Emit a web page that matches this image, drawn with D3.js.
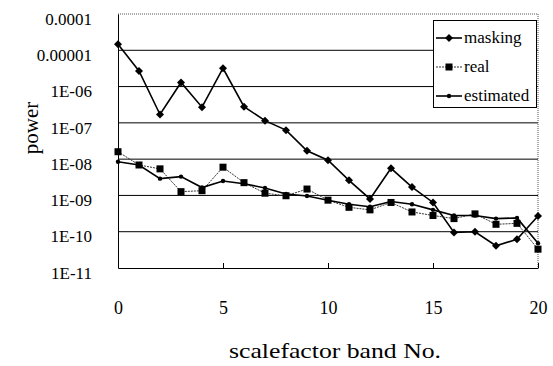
<!DOCTYPE html>
<html><head><meta charset="utf-8">
<script src="https://cdn.jsdelivr.net/npm/d3@7"></script>
<style>body{margin:0;background:#fff}svg{display:block}text{font-family:"Liberation Serif","DejaVu Serif",serif;fill:#000}</style>
</head><body>
<svg id="c" width="553" height="366"></svg>
<script>
const bands = d3.range(0, 21);
const masking = [1.46e-5, 2.7e-6, 1.7e-7, 1.3e-6, 2.7e-7, 3.2e-6, 2.8e-7, 1.15e-7, 6.3e-8, 1.7e-8, 9.3e-9, 2.6e-9, 8e-10, 5.6e-9, 1.7e-9, 6.4e-10, 9.5e-11, 1e-10, 4.1e-11, 6.2e-11, 2.7e-10];
const real = [1.6e-8, 6.9e-9, 5.4e-9, 1.27e-9, 1.35e-9, 6e-9, 2.25e-9, 1.15e-9, 9.8e-10, 1.5e-9, 7.4e-10, 4.7e-10, 4e-10, 6.4e-10, 3.5e-10, 2.8e-10, 2.3e-10, 3.1e-10, 1.6e-10, 1.7e-10, 3.3e-11];
const estimated = [8.5e-9, 6.9e-9, 2.9e-9, 3.3e-9, 1.65e-9, 2.5e-9, 2.1e-9, 1.6e-9, 1.1e-9, 9.6e-10, 7.4e-10, 5.7e-10, 4.9e-10, 6.8e-10, 5.7e-10, 4e-10, 2.8e-10, 2.8e-10, 2.3e-10, 2.4e-10, 4.8e-11];
const yTicks = [1e-4, 1e-5, 1e-6, 1e-7, 1e-8, 1e-9, 1e-10, 1e-11];
const yTickLabels = ["0.0001", "0.00001", "1E-06", "1E-07", "1E-08", "1E-09", "1E-10", "1E-11"];
const xTicks = [0, 5, 10, 15, 20];
const seriesNames = ["masking", "real", "estimated"];

const svg = d3.select("#c");
const L = 118, R = 538, T = 14, B = 268;
const x = d3.scaleLinear().domain([0, 20]).range([L, R]);
const y = d3.scaleLog().domain([1e-11, 1e-4]).range([B, T]);

// gridlines
svg.append("g").selectAll("line").data(yTicks.slice(1, -1)).join("line")
  .attr("x1", L).attr("x2", R).attr("y1", d => y(d)).attr("y2", d => y(d))
  .attr("stroke", "#000").attr("stroke-width", 1);

// frame
svg.append("line").attr("x1", L).attr("x2", R).attr("y1", T).attr("y2", T).attr("stroke", "#555").attr("stroke-dasharray", "1,1");
svg.append("line").attr("x1", R).attr("x2", R).attr("y1", T).attr("y2", B).attr("stroke", "#555").attr("stroke-dasharray", "1,1");

// x axis
const xAxis = d3.axisBottom(x).tickValues(xTicks).tickSizeInner(-5).tickSizeOuter(0).tickFormat(d3.format("d")).tickPadding(33);
const gx = svg.append("g").attr("transform", `translate(0,${B})`).call(xAxis);
gx.select(".domain").attr("stroke", "#000");
gx.selectAll(".tick line").attr("stroke", "#000");
gx.selectAll("text").attr("font-size", 18).attr("font-family", "Liberation Serif");

// y axis
const yAxis = d3.axisLeft(y).tickValues(yTicks).tickSize(0).tickPadding(26).tickFormat((d, i) => yTickLabels[i]);
const gy = svg.append("g").attr("transform", `translate(${L},0)`).call(yAxis);
gy.select(".domain").attr("stroke", "#000");
gy.selectAll("text").attr("font-size", 17).attr("font-family", "Liberation Serif").attr("dy", "0.6em");

// axis titles
svg.append("text").attr("x", 335).attr("y", 358).attr("text-anchor", "middle").attr("font-size", 21)
  .attr("textLength", 212).attr("lengthAdjust", "spacingAndGlyphs").text("scalefactor band No.");
svg.append("text").attr("transform", "translate(38,128) rotate(-90)").attr("text-anchor", "middle").attr("font-size", 21).text("power");

const data = [masking, real, estimated];
const line = d3.line().x((d, i) => x(bands[i])).y(d => y(d));
const styles = [
  {stroke: "#000", width: 1.6, dash: null},
  {stroke: "#333", width: 1, dash: "2,1"},
  {stroke: "#000", width: 1.6, dash: null}
];
function marker(g, k, cx, cy) {
  if (k === 0) g.append("path").attr("d", `M${cx},${cy-4}L${cx+4},${cy}L${cx},${cy+4}L${cx-4},${cy}Z`).attr("fill", "#000");
  else if (k === 1) g.append("rect").attr("x", cx-3.5).attr("y", cy-3.5).attr("width", 7).attr("height", 7).attr("fill", "#000");
  else g.append("circle").attr("cx", cx).attr("cy", cy).attr("r", 2.2).attr("fill", "#000");
}
data.forEach((s, k) => {
  const g = svg.append("g");
  g.append("path").attr("d", line(s)).attr("fill", "none").attr("stroke", styles[k].stroke)
    .attr("stroke-width", styles[k].width).attr("stroke-dasharray", styles[k].dash);
  s.forEach((v, i) => marker(g, k, x(bands[i]), y(v)));
});

// legend
const lg = svg.append("g");
lg.append("rect").attr("x", 433.5).attr("y", 20.5).attr("width", 103).attr("height", 87).attr("fill", "#fff").attr("stroke", "#000");
seriesNames.forEach((n, k) => {
  const cy = 38 + k * 29;
  lg.append("line").attr("x1", 436).attr("x2", 462).attr("y1", cy).attr("y2", cy).attr("stroke", styles[k].stroke)
    .attr("stroke-width", styles[k].width).attr("stroke-dasharray", styles[k].dash);
  marker(lg, k, 449, cy);
  lg.append("text").attr("x", 464).attr("y", cy + 5).attr("font-size", 17).text(n);
});
</script>
</body></html>
